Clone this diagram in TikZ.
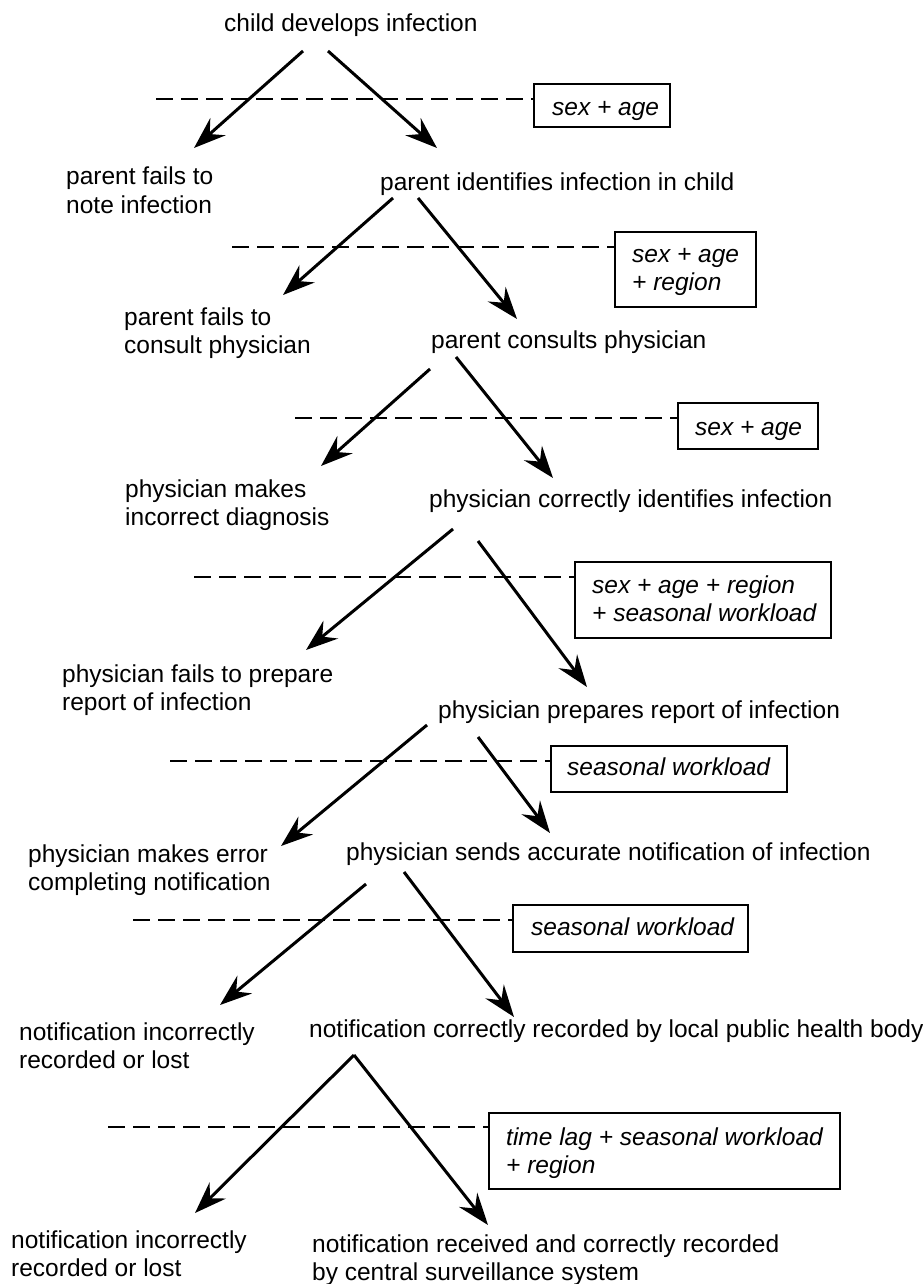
\documentclass[tikz,border=0pt]{standalone}
\usepackage{fontspec}
\setmainfont{Liberation Sans}
\usetikzlibrary{arrows.meta}
\newcommand{\twoln}[2]{\vtop{\hbox{#1}\hbox{#2}}}
\begin{document}
\begin{tikzpicture}[x=1pt,y=-1pt,
  lab/.style={inner sep=0pt, anchor=base west, font=\fontsize{24.5}{28.5}\selectfont},
  fac/.style={lab, font=\fontsize{24.5}{28.5}\selectfont\itshape},
  facbox/.style={draw, line width=1.8pt, inner sep=0pt, anchor=north west},
  arr/.style={line width=3pt, -{Stealth[length=32pt,width=23pt,inset=11pt]}},
  cut/.style={line width=1.8pt, dash pattern=on 17pt off 8pt}
]
\useasboundingbox (0,0) rectangle (922,1284);

% ---- outcome labels ----
\node[lab] (n0) at (224,32) {child develops infection};
\node[lab] (l1) at (66,185) {\twoln{parent fails to}{note infection}};
\node[lab] (n1) at (380,190) {parent identifies infection in child};
\node[lab] (l2) at (124,325) {\twoln{parent fails to}{consult physician}};
\node[lab] (n2) at (431,348) {parent consults physician};
\node[lab] (l3) at (125,497) {\twoln{physician makes}{incorrect diagnosis}};
\node[lab] (n3) at (429,507) {physician correctly identifies infection};
\node[lab] (l4) at (62,682) {\twoln{physician fails to prepare}{report of infection}};
\node[lab] (n4) at (438,718) {physician prepares report of infection};
\node[lab] (l5) at (28,862) {\twoln{physician makes error}{completing notification}};
\node[lab] (n5) at (346,860) {physician sends accurate notification of infection};
\node[lab] (l6) at (19,1040) {\twoln{notification incorrectly}{recorded or lost}};
\node[lab] (n6) at (309,1037) {notification correctly recorded by local public health body};
\node[lab] (l7) at (11,1248) {\twoln{notification incorrectly}{recorded or lost}};
\node[lab] (n7) at (312,1252) {\twoln{notification received and correctly recorded}{by central surveillance system}};

% ---- factor boxes ----
\node[facbox, minimum width=136pt, minimum height=43pt] (b1) at (533,83) {};
\node[fac] (t1) at (552,116) {sex + age};
\node[facbox, minimum width=141pt, minimum height=75pt] (b2) at (614,231) {};
\node[fac] (t2) at (632,262) {\twoln{sex + age}{+ region}};
\node[facbox, minimum width=140pt, minimum height=46pt] (b3) at (677,402) {};
\node[fac] (t3) at (695,435) {sex + age};
\node[facbox, minimum width=256pt, minimum height=76pt] (b4) at (574,561) {};
\node[fac] (t4) at (592,593) {\twoln{sex + age + region}{+ seasonal workload}};
\node[facbox, minimum width=236pt, minimum height=46pt] (b5) at (550,745) {};
\node[fac] (t5) at (567,775) {seasonal workload};
\node[facbox, minimum width=235pt, minimum height=47pt] (b6) at (512,904) {};
\node[fac] (t6) at (531,935) {seasonal workload};
\node[facbox, minimum width=351pt, minimum height=76pt] (b7) at (488,1112) {};
\node[fac] (t7) at (506,1145) {\twoln{time lag + seasonal workload}{+ region}};

% ---- dashed cut lines ----
\coordinate (d1) at (156,99);
\coordinate (d2) at (232,247);
\coordinate (d3) at (295,418);
\coordinate (d4) at (194,577);
\coordinate (d5) at (170,761);
\coordinate (d6) at (133,920);
\coordinate (d7) at (108,1127);
\foreach \i in {1,...,7} {\draw[cut] (d\i) -- (d\i -| b\i.west);}

% ---- arrows ----
\coordinate (s1a) at (303,51);  \coordinate (e1a) at (194,148);
\coordinate (s1b) at (328,51);  \coordinate (e1b) at (437,148);
\coordinate (s2a) at (393,198); \coordinate (e2a) at (283,295);
\coordinate (s2b) at (418,198); \coordinate (e2b) at (517,319);
\coordinate (s3a) at (430,369); \coordinate (e3a) at (321,466);
\coordinate (s3b) at (456,357); \coordinate (e3b) at (553,478);
\coordinate (s4a) at (453,529); \coordinate (e4a) at (306,650);
\coordinate (s4b) at (478,541); \coordinate (e4b) at (587,687);
\coordinate (s5a) at (427,725); \coordinate (e5a) at (281,846);
\coordinate (s5b) at (478,737); \coordinate (e5b) at (550,833);
\coordinate (s6a) at (366,884); \coordinate (e6a) at (220,1005);
\coordinate (s6b) at (404,872); \coordinate (e6b) at (514,1017);
\coordinate (s7) at (354,1055); \coordinate (e7a) at (195,1213);
\coordinate (e7b) at (488,1225);
\foreach \i in {1,...,6} {
  \draw[arr] (s\i a) -- (e\i a);
  \draw[arr] (s\i b) -- (e\i b);
}
\draw[arr] (s7) -- (e7a);
\draw[arr] (s7) -- (e7b);
\end{tikzpicture}
\end{document}
